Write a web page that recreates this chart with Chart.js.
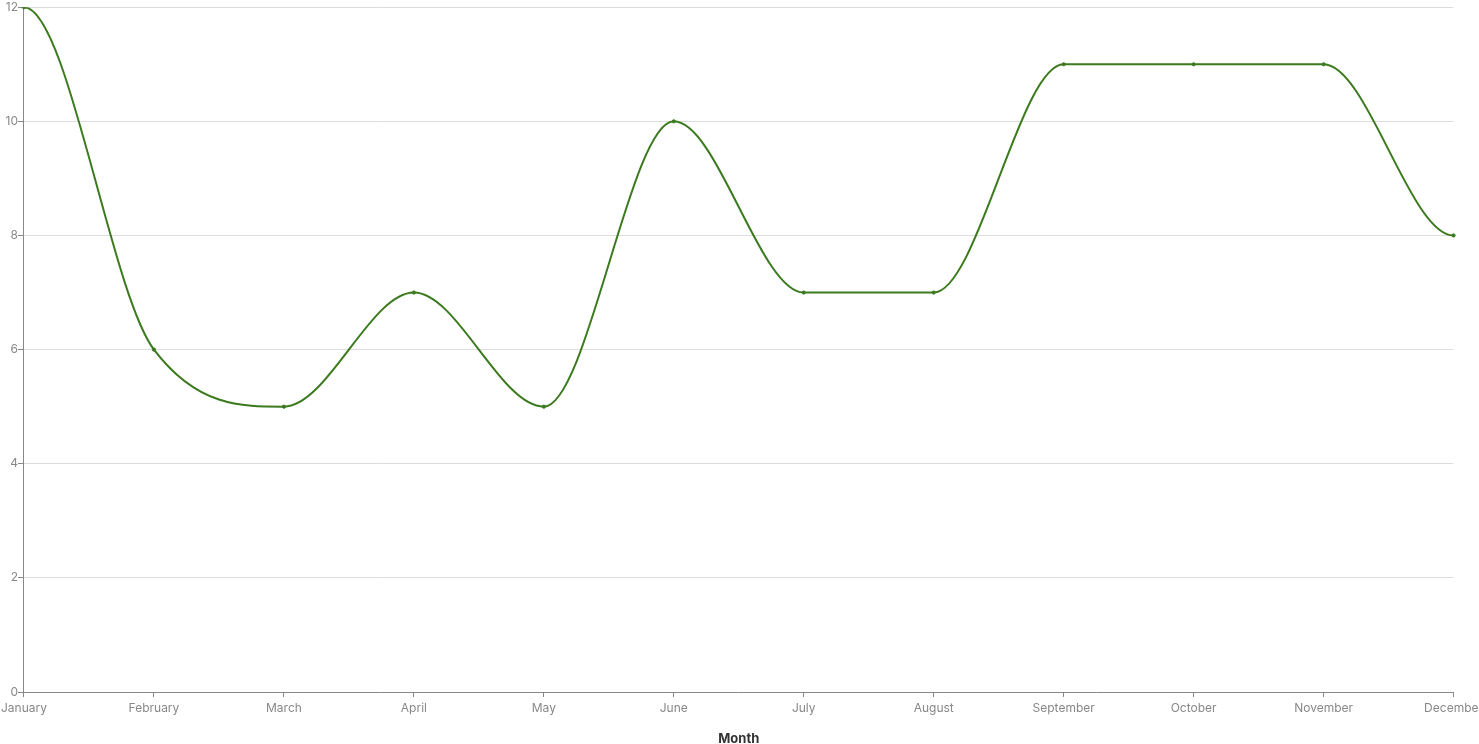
<!DOCTYPE html>
<html>
<head>
<meta charset="utf-8">
<script src="https://cdn.jsdelivr.net/npm/chart.js@4/dist/chart.umd.min.js"></script>
<style>
  html, body { margin: 0; padding: 0; overflow: hidden; background: #fff; }
  #wrap { width: 1490px; height: 747px; margin-left: -3px; }
</style>
</head>
<body>
<div id="wrap"><canvas id="monthly-chart"></canvas></div>
<script>
const months = ['January', 'February', 'March', 'April', 'May', 'June', 'July', 'August', 'September', 'October', 'November', 'December'];
const values = [12, 6, 5, 7, 5, 10, 7, 7, 11, 11, 11, 8];
const yTicks = [0, 2, 4, 6, 8, 10, 12];

// flatten the curve at both ends (horizontal tangent at first and last point)
const flatEnds = {
    id: 'flatEnds',
    beforeDatasetsDraw(chart) {
        const meta = chart.getDatasetMeta(0);
        const line = meta.dataset;
        line.updateControlPoints(chart.chartArea, 'x');
        const pts = meta.data;
        if (pts.length > 1) {
            pts[0].cp2y = pts[0].y;
            pts[pts.length - 1].cp1y = pts[pts.length - 1].y;
        }
    }
};

document.addEventListener('DOMContentLoaded', () => {
    const ctx = document.getElementById('monthly-chart').getContext('2d');
    Chart.defaults.font.family = 'Inter, "Noto Sans", sans-serif';

    new Chart(ctx, {
        type: 'line',
        data: {
            labels: months,
            datasets: [{
                data: values,
                borderColor: '#3b7a1e',
                backgroundColor: '#3b7a1e',
                borderWidth: 2,
                pointRadius: 1.6,
                pointBorderWidth: 1,
                pointHoverRadius: 3,
                cubicInterpolationMode: 'monotone',
                fill: false
            }]
        },
        options: {
            responsive: true,
            maintainAspectRatio: false,
            animation: false,
            layout: { padding: { top: 5, left: 0, right: 0, bottom: 0 } },
            plugins: {
                legend: { display: false },
                tooltip: { enabled: false }
            },
            scales: {
                x: {
                    offset: false,
                    grid: { drawOnChartArea: false, drawTicks: true, tickLength: 5, tickColor: '#888' },
                    border: { color: '#888' },
                    ticks: { color: '#888', font: { size: 12 }, maxRotation: 0, autoSkip: false, padding: 4 },
                    title: { display: true, text: 'Month', color: '#333', font: { size: 13, weight: 'bold' }, padding: { top: 12, bottom: 0 } }
                },
                y: {
                    min: 0,
                    max: 12,
                    afterBuildTicks: axis => { axis.ticks = yTicks.map(v => ({ value: v })); },
                    grid: { color: '#ddd', tickColor: '#888', tickLength: 6 },
                    border: { color: '#888' },
                    ticks: { color: '#888', font: { size: 12 }, padding: 0 }
                }
            }
        },
        plugins: [flatEnds]
    });
});
</script>
</body>
</html>
